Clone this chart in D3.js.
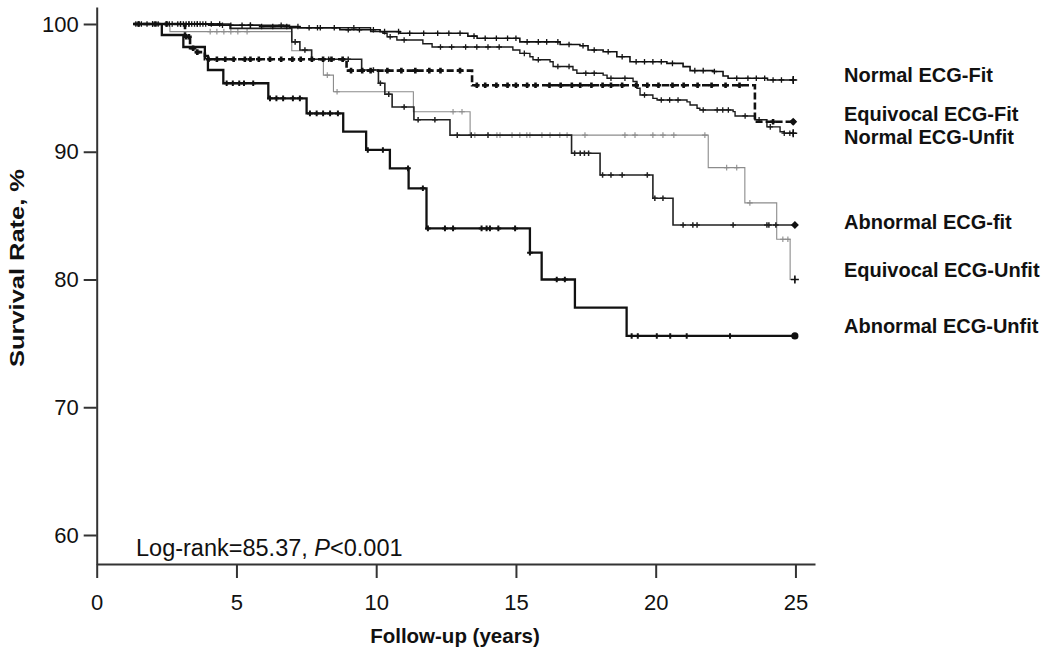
<!DOCTYPE html>
<html>
<head>
<meta charset="utf-8">
<script src="https://cdn.jsdelivr.net/npm/d3@7/dist/d3.min.js"></script>
<style>
  html, body { margin: 0; padding: 0; background: #fff; }
  svg { display: block; }
  text { font-family: "Liberation Sans", Arial, Helvetica, sans-serif; fill: #111; }
</style>
</head>
<body>
<svg id="chart" width="1050" height="649"></svg>
<script>
// ---------- DATA ----------
const xTicks = [0, 5, 10, 15, 20, 25];
const yTicks = [60, 70, 80, 90, 100];

const seriesNames = ["Normal ECG-Fit", "Equivocal ECG-Fit", "Normal ECG-Unfit",
                     "Abnormal ECG-fit", "Equivocal ECG-Unfit", "Abnormal ECG-Unfit"];

// Kaplan-Meier step points [years, survival %]
const normalFit = [[1.31,100],[4.41,99.9],[5.84,99.8],[7.27,99.7],[8.70,99.55],[10.14,99.4],[10.85,99.27],
  [13.28,99.05],[13.61,98.88],[15.14,98.6],[16.58,98.4],[17.29,98.3],[17.58,97.96],[18.12,97.83],
  [18.61,97.44],[19.08,97.05],[20.40,96.92],[20.98,96.66],[21.23,96.35],[22.05,96.28],[22.41,95.93],
  [22.59,95.75],[24.0,95.62],[24.92,95.62]];
const normalUnfit = [[1.31,100],[4.0,99.9],[6.9,99.7],[9.8,99.4],[10.24,99.27],[10.39,99.0],[10.74,98.75],
  [11.67,98.45],[12.0,98.2],[14.89,97.96],[15.14,97.7],[15.50,97.44],[15.61,97.2],[16.22,97.05],
  [16.33,96.67],[17.04,96.4],[17.18,96.15],[18.12,96.0],[18.26,95.75],[19.19,95.5],[19.33,94.97],
  [19.44,94.44],[19.90,94.18],[20.05,94.05],[21.12,93.9],[21.23,93.66],[21.48,93.4],[21.58,93.27],
  [22.77,93.14],[22.84,92.8],[23.55,92.5],[23.98,91.95],[24.45,91.57],[24.6,91.45],[24.92,91.45]];
const equivFit = [[1.31,100],[3.16,99.0],[3.34,98.1],[3.52,97.8],[3.87,97.24],[8.94,96.35],
  [13.43,95.2],[23.55,92.35],[24.92,92.35]];
const equivUnfit = [[1.31,100],[2.62,99.4],[6.98,97.9],[7.69,97.24],[8.11,96.0],[8.47,94.7],
  [11.33,93.13],[13.36,91.3],[21.88,88.76],[23.19,86.0],[24.33,83.15],[24.81,80.0],[24.98,80.0]];
const abnFit = [[1.31,100],[4.77,99.66],[6.98,98.6],[7.27,97.96],[7.69,97.24],[9.48,96.4],[10.08,95.36],
  [10.31,94.5],[10.57,93.5],[11.35,92.5],[12.64,91.3],[16.99,89.88],[18.01,88.18],[19.90,86.36],
  [20.62,84.27],[24.98,84.27]];
const abnUnfit = [[1.31,100],[2.33,99.14],[3.10,98.2],[3.87,97.5],[3.98,96.4],[4.53,95.36],[6.14,94.18],
  [7.51,93.0],[8.82,91.57],[9.64,90.14],[10.49,88.7],[11.16,87.14],[11.80,84.0],[15.50,82.1],
  [15.92,80.0],[17.11,77.8],[18.96,75.58],[24.98,75.58]];

// censored observation times (years)
const normalFitCens = [1.4,1.6,1.8,2.0,2.2,2.5,2.7,2.9,3.0,3.1,3.2,3.3,3.4,3.5,3.6,3.7,3.8,3.9,4.1,4.4,4.8,
  5.2,5.5,5.9,6.3,6.8,7.2,7.6,8.0,8.5,9.0,9.4,9.9,10.3,10.8,11.2,11.7,12.2,12.6,13.0,13.5,13.9,14.3,14.7,
  15.0,15.4,15.8,16.1,16.5,16.9,17.4,17.8,18.3,18.8,19.3,19.6,19.9,20.2,20.6,21.4,21.7,22.1,22.9,23.3,
  23.6,23.9,24.2,24.5,24.92];
const normalUnfitCens = [1.5,2.0,2.6,3.0,3.3,3.6,4.5,5.5,6.6,7.9,9.2,10.5,11.0,12.3,12.7,13.2,13.6,14.0,
  14.4,15.3,15.8,16.5,16.9,17.5,17.8,18.4,18.9,19.6,20.2,20.5,20.8,21.7,22.2,22.4,22.6,23.2,23.7,24.1,
  24.6,24.8,24.92];
const equivFitCens = [1.5,2.1,2.5,3.2,3.3,3.45,3.6,4.0,4.3,4.6,4.9,5.3,5.5,5.8,6.2,6.6,7.0,7.3,7.7,8.1,
  8.4,8.8,9.1,9.5,9.8,10.4,10.9,11.4,11.9,12.3,13.0,13.6,13.9,14.3,14.7,15.0,15.4,15.7,16.2,16.6,17.0,
  17.3,17.7,18.1,18.4,18.8,19.3,19.7,20.1,20.6,21.0,21.5,22.0,22.5,23.0,24.2,24.92];
const equivUnfitCens = [4.06,4.3,4.55,4.8,5.05,5.38,8.25,8.6,12.75,13.07,13.53,14.32,14.43,14.86,15.14,
  15.39,15.5,15.93,16.22,16.57,16.83,17.47,18.9,19.26,19.9,20.26,20.65,21.76,22.54,22.9,23.37,24.55,
  24.73,24.98];
const abnFitCens = [7.1,7.45,8.3,9.0,9.9,10.15,10.45,11.0,11.5,12.1,12.9,13.4,14.0,17.1,17.3,17.45,17.6,
  18.1,18.4,18.8,19.7,19.97,20.26,20.98,21.33,21.48,22.77,23.98,24.05,24.3,24.98];
const abnUnfitCens = [4.65,4.87,5.1,5.27,5.6,6.2,6.43,6.67,7.02,7.27,7.63,7.87,8.1,8.35,8.63,9.7,10.24,
  11.14,11.67,11.85,12.46,12.75,13.77,13.95,14.07,14.37,14.97,15.5,16.46,16.75,19.14,19.36,20.04,
  20.52,21.11,22.66,24.98];

const seriesData = [normalFit, equivFit, normalUnfit, abnFit, equivUnfit, abnUnfit];
const censData = [normalFitCens, equivFitCens, normalUnfitCens, abnFitCens, equivUnfitCens, abnUnfitCens];

// ---------- STYLE ----------
const styles = [
  {stroke:"#111", width:1.6, dash:null, cw:1.3, end:"plus"},
  {stroke:"#111", width:2.6, dash:"7,3", cw:2.6, end:"diamond"},
  {stroke:"#1a1a1a", width:1.4, dash:null, cw:1.3, end:"plus"},
  {stroke:"#222", width:1.6, dash:null, cw:1.5, end:"diamond"},
  {stroke:"#8c8c8c", width:1.1, dash:null, cw:1.1, end:"plus"},
  {stroke:"#111", width:2.3, dash:null, cw:2.0, end:"circle"}
];
const labelY = [82, 121, 144, 229, 277, 333];
const drawOrder = [4, 3, 2, 0, 1, 5];

const svg = d3.select("#chart");
const x = d3.scaleLinear().domain([0, 25.7]).range([96.7, 815]);
const y = d3.scaleLinear().domain([57.73, 101.33]).range([564, 7]);

// axes
const yAxis = svg.append("g").attr("transform", "translate(96.7,0)")
  .call(d3.axisLeft(y).tickValues(yTicks).tickSize(13).tickSizeOuter(0).tickPadding(5));
const xAxis = svg.append("g").attr("transform", "translate(0,564)")
  .call(d3.axisBottom(x).tickValues(xTicks).tickSize(14).tickSizeOuter(0).tickPadding(16));
[xAxis, yAxis].forEach(g => {
  g.selectAll("path, line").attr("stroke", "#333").attr("stroke-width", 2);
  g.selectAll("text").attr("font-size", 22).attr("fill", "#111")
    .style("font-family", '"Liberation Sans", Arial, sans-serif');
});

// curves
const line = d3.line().x(d => x(d[0])).y(d => y(d[1])).curve(d3.curveStepAfter);
const bis = d3.bisector(d => d[0]).right;
function valueAt(data, t) { const i = Math.max(0, bis(data, t) - 1); return data[i][1]; }

drawOrder.forEach(k => {
  const s = styles[k], data = seriesData[k];
  svg.append("path").datum(data).attr("d", line)
    .attr("fill", "none").attr("stroke", s.stroke).attr("stroke-width", s.width)
    .attr("stroke-dasharray", s.dash);
  const cens = censData[k];
  svg.append("g").selectAll("path").data(cens).join("path")
    .attr("d", t => { const px = x(t), py = y(valueAt(data, t));
      return `M${px-2.8},${py}h5.6M${px},${py-2.8}v5.6`; })
    .attr("stroke", s.stroke).attr("stroke-width", s.cw).attr("fill", "none");
  // end marker
  const last = data[data.length - 1];
  const ex = x(last[0]), ey = y(last[1]);
  if (s.end === "circle") {
    svg.append("circle").attr("cx", ex).attr("cy", ey).attr("r", 3.6).attr("fill", "#111");
  } else if (s.end === "diamond") {
    svg.append("path").attr("d", `M${ex},${ey-4}L${ex+4},${ey}L${ex},${ey+4}L${ex-4},${ey}Z`).attr("fill", "#111");
  } else {
    svg.append("path").attr("d", `M${ex-4},${ey}h8M${ex},${ey-4}v8`).attr("stroke", "#111").attr("stroke-width", 1.6);
  }
});

// legend labels
seriesNames.forEach((n, i) => {
  svg.append("text").attr("x", 844).attr("y", labelY[i]).attr("font-size", 20)
    .attr("font-weight", "bold").text(n);
});

// axis titles
svg.append("text").attr("x", 455).attr("y", 643).attr("text-anchor", "middle")
  .attr("font-size", 20.5).attr("font-weight", "bold").text("Follow-up (years)");
svg.append("text").attr("transform", "translate(24,268) rotate(-90)").attr("text-anchor", "middle")
  .attr("font-size", 21).attr("font-weight", "bold")
  .attr("textLength", 198).attr("lengthAdjust", "spacingAndGlyphs").text("Survival Rate, %");

// log-rank annotation
const lr = svg.append("text").attr("x", 136).attr("y", 556).attr("font-size", 23.5);
lr.append("tspan").text("Log-rank=85.37, ");
lr.append("tspan").attr("font-style", "italic").text("P");
lr.append("tspan").text("<0.001");
</script>
</body>
</html>
